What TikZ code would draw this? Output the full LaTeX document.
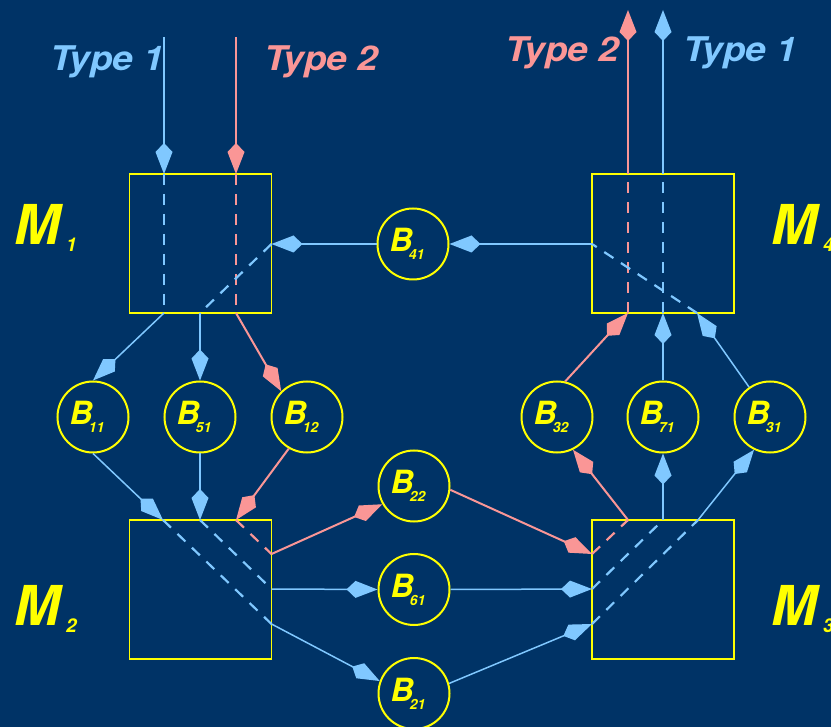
\documentclass[tikz,border=0pt]{standalone}
\usepackage{fontspec}
\setmainfont{TeX Gyre Heros}
\usetikzlibrary{arrows.meta}
\definecolor{navy}{RGB}{0,51,102}
\definecolor{flowA}{RGB}{128,200,255}
\definecolor{flowB}{RGB}{250,150,150}
\definecolor{gold}{RGB}{255,255,0}
% buffer label: B with a tucked-in index
\newcommand\bufname[1]{B\kern-4pt\raisebox{-8pt}{\fontsize{14}{14}\selectfont #1}\kern12pt}
% machine label: M with its index
\newcommand\machname[1]{M\kern6pt\raisebox{-7pt}{\fontsize{19}{19}\selectfont #1}}
\begin{document}
\begin{tikzpicture}[x=1pt,y=-1pt,
  >={Kite[length=31pt,width=17pt,inset=9pt]},
  machine/.style={draw=gold,line width=1.7pt,minimum width=142pt,minimum height=139pt,inner sep=0pt},
  buffer/.style={circle,draw=gold,line width=2pt,minimum size=71pt,inner sep=0pt,text=gold,
    font=\bfseries\itshape\fontsize{32}{32}\selectfont},
  mlabel/.style={anchor=base west,inner sep=0pt,text=gold,font=\bfseries\itshape\fontsize{55}{55}\selectfont},
  tlabel/.style={anchor=base west,inner sep=0pt,xscale=1.09,transform shape,
    font=\bfseries\itshape\fontsize{34}{34}\selectfont},
  flowa/.style={draw=flowA,line width=1.5pt},
  flowb/.style={draw=flowB,line width=2pt},
  hidden/.style={line width=2.2pt,dash pattern=on 11pt off 9pt},
  hidda/.style={hidden,draw=flowA},
  hiddb/.style={hidden,draw=flowB}]
\fill[navy] (0,0) rectangle (831,727);
\useasboundingbox (0,0) rectangle (831,727);

% machines
\node[machine] (M1) at (200.5,243.5) {};
\node[machine] (M4) at (663,243.5) {};
\node[machine] (M2) at (200.5,589.5) {};
\node[machine] (M3) at (663,589.5) {};

% buffers
\node[buffer] (B41) at (413,244) {\bufname{41}};
\node[buffer] (B11) at (93,417) {\bufname{11}};
\node[buffer] (B51) at (200,417) {\bufname{51}};
\node[buffer] (B12) at (307,417) {\bufname{12}};
\node[buffer] (B32) at (557,417) {\bufname{32}};
\node[buffer] (B71) at (663,417) {\bufname{71}};
\node[buffer] (B31) at (770,417) {\bufname{31}};
\node[buffer] (B22) at (414,486) {\bufname{22}};
\node[buffer] (B61) at (414,589.5) {\bufname{61}};
\node[buffer] (B21) at (414,693.5) {\bufname{21}};

% labels
\node[mlabel] (L1) at (14,245) {\machname{1}};
\node[mlabel] (L4) at (771,245) {\machname{4}};
\node[mlabel] (L2) at (14,625) {\machname{2}};
\node[mlabel] (L3) at (771,625) {\machname{3}};
\node[tlabel,text=flowA] (T1in) at (50,71) {Type 1};
\node[tlabel,text=flowB] (T2in) at (264,71) {Type 2};
\node[tlabel,text=flowB] (T2out) at (505,62) {Type 2};
\node[tlabel,text=flowA] (T1out) at (683,62) {Type 1};

% ports on the machine borders
\coordinate (srcA) at (164,37);
\coordinate (srcB) at (236,37);
\coordinate (M1ta) at (164,174);
\coordinate (M1tb) at (236,174);
\coordinate (M1ba) at (164,313);
\coordinate (M1bc) at (200,313);
\coordinate (M1bb) at (236,313);
\coordinate (M1r) at (271.5,244);
\coordinate (M2ta) at (163,520);
\coordinate (M2tc) at (200,520);
\coordinate (M2tb) at (236,520);
\coordinate (M2rb) at (271.5,554);
\coordinate (M2rc) at (271.5,589);
\coordinate (M2ra) at (271.5,624);
\coordinate (M3lb) at (592,554);
\coordinate (M3lc) at (592,589);
\coordinate (M3la) at (592,624);
\coordinate (M3tb) at (628,520);
\coordinate (M3tc) at (663,520);
\coordinate (M3ta) at (698,520);
\coordinate (M4bb) at (628,313);
\coordinate (M4bc) at (663,313);
\coordinate (M4ba) at (697,313);
\coordinate (M4l) at (592,244);
\coordinate (M4tb) at (628,174);
\coordinate (M4tc) at (663,174);
\coordinate (sinkB) at (628,10);
\coordinate (sinkC) at (663,10);

% M1
\draw[flowa,->] (srcA) -- (M1ta);
\draw[flowb,->] (srcB) -- (M1tb);
\draw[hidda] (M1ta) -- (M1ba);
\draw[hiddb] (M1tb) -- (M1bb);
\draw[flowa,->] (B41.west) -- (M1r);
\draw[hidda] (M1r) -- (M1bc);
\draw[flowa,->] (M1ba) -- (B11.north);
\draw[flowa,->] (M1bc) -- (B51.north);
\draw[flowb,->] (M1bb) -- (B12.135);

% M2
\draw[flowa,->] (B11.south) -- (M2ta);
\draw[flowa,->] (B51.south) -- (M2tc);
\draw[flowb,->] (B12.240) -- (M2tb);
\draw[hidda] (M2ta) -- (M2ra);
\draw[hidda] (M2tc) -- (M2rc);
\draw[hiddb] (M2tb) -- (M2rb);
\draw[flowb,->] (M2rb) -- (B22.210);
\draw[flowa,->] (M2rc) -- (B61.west);
\draw[flowa,->] (M2ra) -- (B21.160);

% M3
\draw[flowb,->] (B22.-6) -- (M3lb);
\draw[flowa,->] (B61.east) -- (M3lc);
\draw[flowa,->] (B21.16) -- (M3la);
\draw[hiddb] (M3lb) -- (M3tb);
\draw[hidda] (M3lc) -- (M3tc);
\draw[hidda] (M3la) -- (M3ta);
\draw[flowb,->] (M3tb) -- (B32.-64);
\draw[flowa,->] (M3tc) -- (B71.south);
\draw[flowa,->] (M3ta) -- (B31.244);

% M4
\draw[flowb,->] (B32.77) -- (M4bb);
\draw[flowa,->] (B71.north) -- (M4bc);
\draw[flowa,->] (B31.125) -- (M4ba);
\draw[hiddb] (M4bb) -- (M4tb);
\draw[hidda] (M4bc) -- (M4tc);
\draw[hidda] (M4ba) -- (M4l);
\draw[flowa,->] (M4l) -- (B41.east);
\draw[flowb,->] (M4tb) -- (sinkB);
\draw[flowa,->] (M4tc) -- (sinkC);
\end{tikzpicture}
\end{document}
